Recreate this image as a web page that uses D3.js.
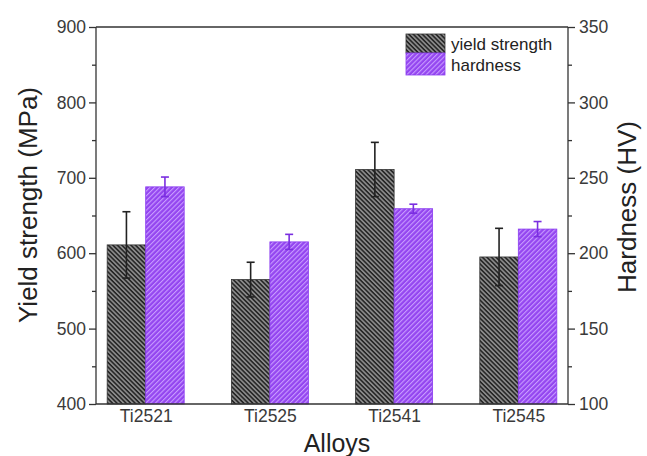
<!DOCTYPE html>
<html><head><meta charset="utf-8">
<script src="https://cdn.jsdelivr.net/npm/d3@7"></script>
<style>body{margin:0;background:#fff}svg{display:block}text{font-family:Arial,"Liberation Sans",sans-serif}</style>
</head><body><svg id="c" width="647" height="456"></svg>
<script>
const categories = ["Ti2521","Ti2525","Ti2541","Ti2545"];
const yieldStrength = [611, 565, 711, 595];
const yieldErr = [44, 23, 36, 38];
const hardness = [244, 207.5, 229.5, 216];
const hardnessErr = [6.5, 5, 3, 5];
const leftTicks = [400,500,600,700,800,900];
const rightTicks = [100,150,200,250,300,350];

const svg = d3.select("#c");
const L=96, R=568, T=27, B=404;
const x = d3.scaleLinear().domain([0.6,4.4]).range([L,R]);
const yL = d3.scaleLinear().domain([400,900]).range([B,T]);
const yR = d3.scaleLinear().domain([100,350]).range([B,T]);
const bw = 0.31;

const defs = svg.append("defs");
const p1 = defs.append("pattern").attr("id","hy").attr("patternUnits","userSpaceOnUse").attr("width",3.2).attr("height",3.2).attr("patternTransform","rotate(45)");
p1.append("rect").attr("width",3.2).attr("height",3.2).attr("fill","#8a8a8a");
p1.append("rect").attr("width",3.2).attr("height",1.5).attr("fill","#222");
const p2 = defs.append("pattern").attr("id","hh").attr("patternUnits","userSpaceOnUse").attr("width",3.4).attr("height",3.4).attr("patternTransform","rotate(-45)");
p2.append("rect").attr("width",3.4).attr("height",3.4).attr("fill","#9446f0");
p2.append("rect").attr("width",3.4).attr("height",1.1).attr("fill","#c89cff");

const g = svg.append("g");
categories.forEach((c,i)=>{
  const xi=i+1;
  g.append("rect").attr("x",x(xi-bw)).attr("width",x(xi)-x(xi-bw)).attr("y",yL(yieldStrength[i])).attr("height",B-yL(yieldStrength[i]))
    .attr("fill","url(#hy)").attr("stroke","#333").attr("stroke-width",0.8);
  g.append("rect").attr("x",x(xi)).attr("width",x(xi+bw)-x(xi)).attr("y",yR(hardness[i])).attr("height",B-yR(hardness[i]))
    .attr("fill","url(#hh)").attr("stroke","#8a3cf0").attr("stroke-width",0.8);
  const cx1=x(xi-bw/2), cx2=x(xi+bw/2);
  const e1=g.append("g").attr("stroke","#222").attr("stroke-width",1.6);
  e1.append("line").attr("x1",cx1).attr("x2",cx1).attr("y1",yL(yieldStrength[i]+yieldErr[i])).attr("y2",yL(yieldStrength[i]-yieldErr[i]));
  e1.append("line").attr("x1",cx1-4).attr("x2",cx1+4).attr("y1",yL(yieldStrength[i]+yieldErr[i])).attr("y2",yL(yieldStrength[i]+yieldErr[i]));
  e1.append("line").attr("x1",cx1-4).attr("x2",cx1+4).attr("y1",yL(yieldStrength[i]-yieldErr[i])).attr("y2",yL(yieldStrength[i]-yieldErr[i]));
  const e2=g.append("g").attr("stroke","#7a2ee0").attr("stroke-width",1.6);
  e2.append("line").attr("x1",cx2).attr("x2",cx2).attr("y1",yR(hardness[i]+hardnessErr[i])).attr("y2",yR(hardness[i]-hardnessErr[i]));
  e2.append("line").attr("x1",cx2-4).attr("x2",cx2+4).attr("y1",yR(hardness[i]+hardnessErr[i])).attr("y2",yR(hardness[i]+hardnessErr[i]));
  e2.append("line").attr("x1",cx2-4).attr("x2",cx2+4).attr("y1",yR(hardness[i]-hardnessErr[i])).attr("y2",yR(hardness[i]-hardnessErr[i]));
});

const ax = svg.append("g").attr("stroke","#333").attr("stroke-width",1.3).attr("fill","none");
ax.append("line").attr("x1",L).attr("x2",R).attr("y1",T).attr("y2",T);
ax.append("line").attr("x1",L).attr("x2",R).attr("y1",B).attr("y2",B);
ax.append("line").attr("x1",L).attr("x2",L).attr("y1",T).attr("y2",B);
ax.append("line").attr("x1",R).attr("x2",R).attr("y1",T).attr("y2",B);

const la = svg.append("g").attr("transform",`translate(${L},0)`).call(d3.axisLeft(yL).tickValues(leftTicks).tickSize(7).tickPadding(3).tickFormat(d3.format("d")));
const lm = svg.append("g").attr("transform",`translate(${L},0)`).call(d3.axisLeft(yL).tickValues(d3.range(450,900,100)).tickSize(4).tickFormat(""));
const ra = svg.append("g").attr("transform",`translate(${R},0)`).call(d3.axisRight(yR).tickValues(rightTicks).tickSize(7).tickPadding(4).tickFormat(d3.format("d")));
const rm = svg.append("g").attr("transform",`translate(${R},0)`).call(d3.axisRight(yR).tickValues(d3.range(125,350,50)).tickSize(4).tickFormat(""));
const ba = svg.append("g").attr("transform",`translate(0,${B})`).call(d3.axisBottom(x).tickValues([1,2,3,4]).tickSize(0).tickPadding(6).tickFormat((d)=>categories[d-1]));
[la,lm,ra,rm,ba].forEach(a=>{a.select(".domain").remove();a.selectAll("line").attr("stroke","#333").attr("stroke-width",1.3);a.selectAll("text").attr("font-size",17.5).attr("fill","#3a3a3a").attr("font-family","Arial, 'Liberation Sans', sans-serif");});

svg.append("text").attr("transform","translate(37,205) rotate(-90)").attr("text-anchor","middle").attr("font-size",26).attr("fill","#222").text("Yield strength (MPa)");
svg.append("text").attr("transform","translate(636,207) rotate(-90)").attr("text-anchor","middle").attr("font-size",26).attr("fill","#222").text("Hardness (HV)");
svg.append("text").attr("x",337).attr("y",452).attr("text-anchor","middle").attr("font-size",25).attr("fill","#222").text("Alloys");

const lg = svg.append("g");
lg.append("rect").attr("x",406).attr("y",34).attr("width",39).attr("height",19).attr("fill","url(#hy)").attr("stroke","#333").attr("stroke-width",0.8);
lg.append("rect").attr("x",406).attr("y",53).attr("width",39).attr("height",22).attr("fill","url(#hh)").attr("stroke","#8a3cf0").attr("stroke-width",0.8);
lg.append("text").attr("x",451).attr("y",50).attr("font-size",17).attr("fill","#222").text("yield strength");
lg.append("text").attr("x",451).attr("y",71).attr("font-size",17).attr("fill","#222").text("hardness");
</script></body></html>
